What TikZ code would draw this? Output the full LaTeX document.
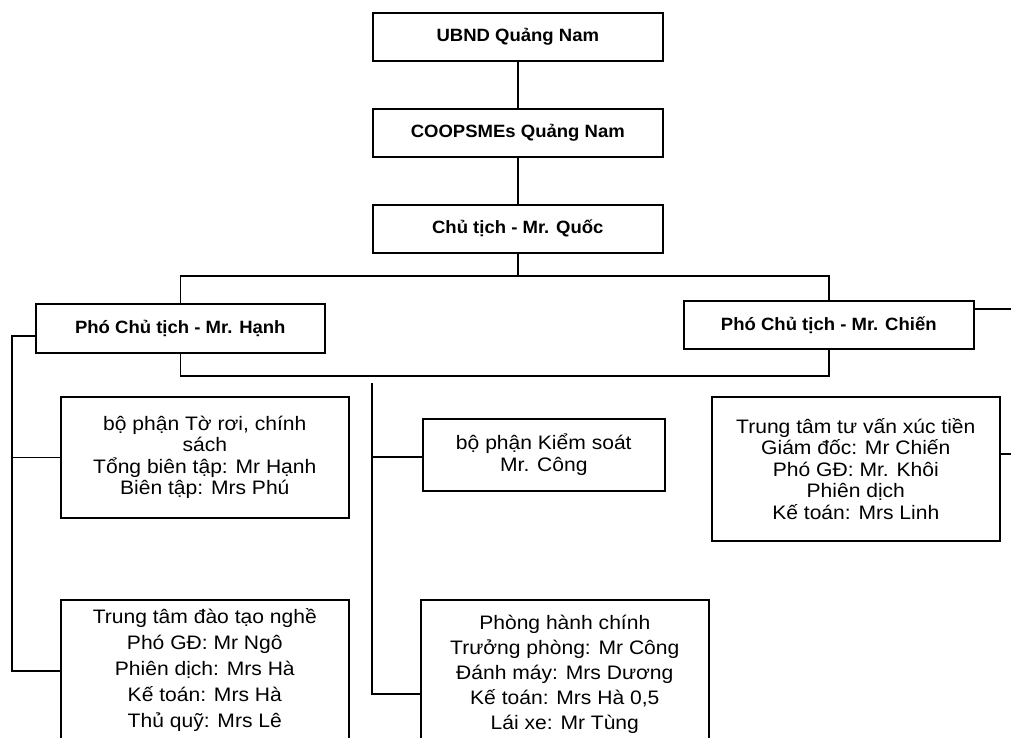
\documentclass[tikz,border=0pt]{standalone}
\usepackage{fontspec}
\setmainfont{Liberation Sans}
\newfontfamily\bodyfont{Liberation Sans}[FakeStretch=1.08]
\newfontfamily\headfont{Liberation Sans}[FakeStretch=1.04]
\newcommand\headbox[3]{\parbox[c][#2pt][c]{#1pt}{\centering\headfont\bfseries\fontsize{17.8}{20}\selectfont #3}}
\newcommand\bodybox[3]{\parbox[c][#2pt][c]{#1pt}{\centering\bodyfont\fontsize{19.5}{21.5}\selectfont #3}}
\newcommand\bodytop[5]{\parbox[c][#2pt][t]{#1pt}{\centering\bodyfont\fontsize{19.5}{#4}\selectfont\rule{0pt}{#3pt}#5}}
\begin{document}
\begin{tikzpicture}[x=1pt,y=-1pt,
  box/.style={draw, line width=1.6pt, inner sep=0pt, anchor=north west},
  conn/.style={line width=1.6pt}]
\useasboundingbox (0,0) rectangle (1011,737);
\clip (0,0) rectangle (1011,737);
% top chain
\node[box] (ubnd) at (372,12) {\headbox{290}{48}{UBND Quảng Nam}};
\node[box] (coop) at (372,108) {\headbox{290}{48}{COOPSMEs Quảng Nam}};
\node[box] (ct) at (372,204) {\headbox{290}{48}{Chủ tịch - Mr. Quốc}};
\node[box] (phoH) at (35,303) {\headbox{289}{49}{Phó Chủ tịch - Mr. Hạnh}};
\node[box] (phoC) at (683,300) {\headbox{290}{48}{Phó Chủ tịch - Mr. Chiến}};
% units
\node[box] (toroi) at (60,396) {\bodybox{288}{121}{bộ phận Tờ rơi, chính\\ sách\\ Tổng biên tập: Mr Hạnh\\ Biên tập: Mrs Phú}};
\node[box] (ks) at (422,418) {\bodybox{242}{72}{bộ phận Kiểm soát\\ Mr. Công}};
\node[box] (tuvan) at (711,396) {\bodybox{288}{144}{Trung tâm tư vấn xúc tiền\\ Giám đốc: Mr Chiến\\ Phó GĐ: Mr. Khôi\\ Phiên dịch\\ Kế toán: Mrs Linh}};
\node[box] (daotao) at (60,599) {\bodytop{288}{170}{24}{26}{Trung tâm đào tạo nghề\\ Phó GĐ: Mr Ngô\\ Phiên dịch: Mrs Hà\\ Kế toán: Mrs Hà\\ Thủ quỹ: Mrs Lê}};
\node[box] (phc) at (420,599) {\bodytop{288}{170}{30}{25}{Phòng hành chính\\ Trưởng phòng: Mr Công\\ Đánh máy: Mrs Dương\\ Kế toán: Mrs Hà 0,5\\ Lái xe: Mr Tùng}};
% attachment points on box sides
\coordinate (phoHw) at ([yshift=-33pt]phoH.north west);
\coordinate (phoCe) at ([yshift=-9pt]phoC.north east);
\coordinate (tuvanE) at ([yshift=-58pt]tuvan.north east);
\coordinate (ksW) at ([yshift=-39pt]ks.north west);
\coordinate (daotaoW) at ([yshift=-72pt]daotao.north west);
\coordinate (phcW) at ([yshift=-95pt]phc.north west);
% free ends
\coordinate (busTop) at (ct.south |- 0,276);
\coordinate (busBot) at (ct.south |- 0,376);
\coordinate (midTop) at (372,383);
\coordinate (leftX) at (12,0);
\coordinate (rightEdge) at (1011,0);
% connectors
\draw[conn] (ubnd.south) -- (coop.north);
\draw[conn] (coop.south) -- (ct.north);
\draw[conn] (ct.south) -- (busTop);
\draw[conn] (phoH.north) |- (busTop) -| (phoC.north);
\draw[conn] (phoH.south) |- (busBot) -| (phoC.south);
\draw[conn] (phoHw) -- (leftX |- phoHw) |- (daotaoW);
\draw[conn] (leftX |- toroi.west) -- (toroi.west);
\draw[conn] (midTop) |- (phcW);
\draw[conn] (midTop |- ksW) -- (ksW);
\draw[conn] (phoCe) -- (rightEdge |- phoCe);
\draw[conn] (tuvanE) -- (rightEdge |- tuvanE);
\end{tikzpicture}
\end{document}
